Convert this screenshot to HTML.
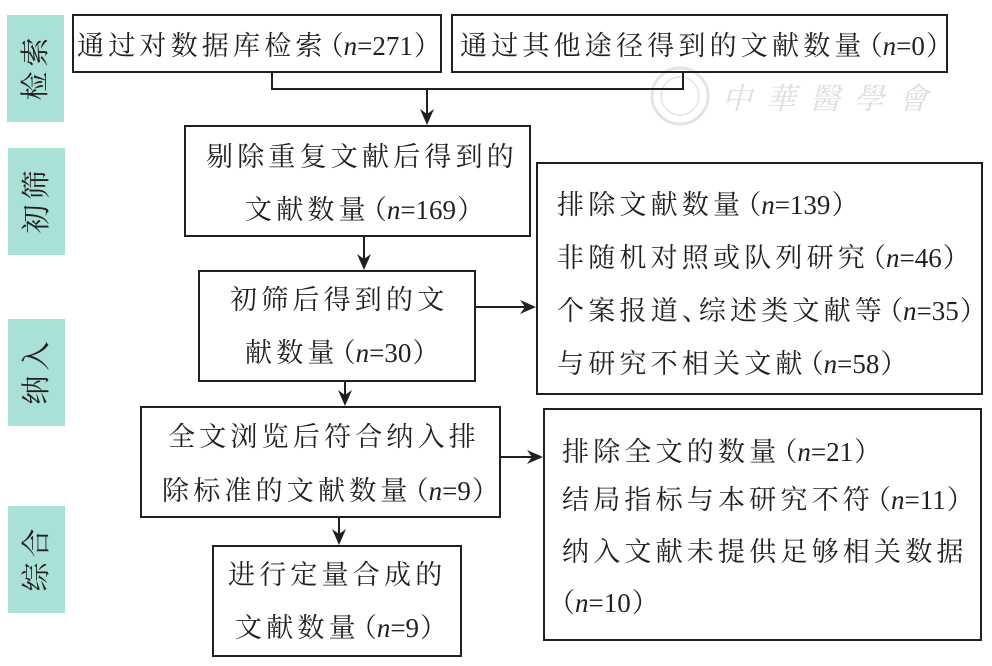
<!DOCTYPE html>
<html>
<head>
<meta charset="utf-8">
<style>
html,body{margin:0;padding:0;background:#fff;}
body{width:992px;height:666px;position:relative;overflow:hidden;font-family:"Liberation Serif","Noto Serif CJK SC",serif;color:#231f20;}
.lab{position:absolute;background:#a9e1d7;}
.lab span{position:absolute;left:50%;top:50%;transform:translate(-50%,-50%) rotate(-90deg);font-size:29px;line-height:30px;letter-spacing:5px;padding-left:5px;white-space:nowrap;color:#231f20;}
.t{position:absolute;white-space:nowrap;font-size:27px;line-height:30px;letter-spacing:4.2px;}
.t i{font-family:"Liberation Serif",serif;font-style:italic;letter-spacing:0;}
.t b{font-family:"Liberation Serif",serif;font-weight:normal;letter-spacing:0;}
.t .po{letter-spacing:0;margin-left:-10px;}
.t .pc{letter-spacing:0;margin-right:-8px;margin-left:1px;}
.t .dn{letter-spacing:0;margin-right:-10px;}
svg{position:absolute;left:0;top:0;}
.wm{position:absolute;color:#dedede;font-family:"Noto Serif CJK SC",serif;font-style:italic;font-size:30px;letter-spacing:14px;white-space:nowrap;}
</style>
</head>
<body>
<!-- watermark -->
<svg width="992" height="666">
  <circle cx="680" cy="96" r="28" fill="none" stroke="#e4e4e4" stroke-width="3"/>
  <circle cx="680" cy="96" r="19" fill="none" stroke="#e8e8e8" stroke-width="2"/>
</svg>
<div class="wm" style="left:722px;top:74px;">中華醫學會</div>

<!-- side labels -->
<div class="lab" style="left:7px;top:15px;width:57px;height:107px;"><span>检索</span></div>
<div class="lab" style="left:8px;top:148px;width:57px;height:107px;"><span>初筛</span></div>
<div class="lab" style="left:8px;top:319px;width:57px;height:107px;"><span>纳入</span></div>
<div class="lab" style="left:8px;top:506px;width:57px;height:107px;"><span>综合</span></div>

<svg width="992" height="666">
  <g fill="none" stroke="#231f20" stroke-width="2">
    <rect x="73" y="15" width="368" height="57"/>
    <rect x="452" y="15" width="495" height="57"/>
    <rect x="185" y="126" width="345" height="110"/>
    <rect x="199" y="271" width="276" height="110"/>
    <rect x="537" y="163" width="445" height="231"/>
    <rect x="141" y="407" width="359" height="110"/>
    <rect x="544" y="409" width="437" height="231"/>
    <rect x="213" y="546" width="248" height="110"/>
    <polyline points="272,72 272,89 683,89 683,72"/>
    <line x1="427" y1="89" x2="427" y2="120"/>
    <line x1="364" y1="236" x2="364" y2="265"/>
    <line x1="475" y1="307" x2="531" y2="307"/>
    <line x1="345" y1="381" x2="345" y2="401"/>
    <line x1="500" y1="457" x2="538" y2="457"/>
    <line x1="339" y1="517" x2="339" y2="540"/>
  </g>
  <g fill="#231f20">
    <path d="M427,125 L420,109 L427,114 L434,109 Z"/>
    <path d="M364,270 L357,254 L364,259 L371,254 Z"/>
    <path d="M345,406 L338,390 L345,395 L352,390 Z"/>
    <path d="M339,545 L332,529 L339,534 L346,529 Z"/>
    <path d="M536,307 L520,300 L525,307 L520,314 Z"/>
    <path d="M543,457 L527,450 L532,457 L527,464 Z"/>
  </g>
</svg>

<!-- box texts -->
<div class="t" style="left:77px;top:31px;">通过对数据库检索<span class="po">（</span><i>n</i><b>=271</b><span class="pc">）</span></div>
<div class="t" style="left:460px;top:31px;">通过其他途径得到的文献数量<span class="po">（</span><i>n</i><b>=0</b><span class="pc">）</span></div>

<div class="t" style="left:206px;top:142px;">剔除重复文献后得到的</div>
<div class="t" style="left:245px;top:195px;">文献数量<span class="po">（</span><i>n</i><b>=169</b><span class="pc">）</span></div>

<div class="t" style="left:230px;top:285px;">初筛后得到的文</div>
<div class="t" style="left:245px;top:338px;">献数量<span class="po">（</span><i>n</i><b>=30</b><span class="pc">）</span></div>

<div class="t" style="left:557px;top:190px;">排除文献数量<span class="po">（</span><i>n</i><b>=139</b><span class="pc">）</span></div>
<div class="t" style="left:557px;top:243px;">非随机对照或队列研究<span class="po">（</span><i>n</i><b>=46</b><span class="pc">）</span></div>
<div class="t" style="left:557px;top:296px;">个案报道<span class="dn">、</span>综述类文献等<span class="po">（</span><i>n</i><b>=35</b><span class="pc">）</span></div>
<div class="t" style="left:557px;top:349px;">与研究不相关文献<span class="po">（</span><i>n</i><b>=58</b><span class="pc">）</span></div>

<div class="t" style="left:168px;top:422px;">全文浏览后符合纳入排</div>
<div class="t" style="left:162px;top:476px;">除标准的文献数量<span class="po">（</span><i>n</i><b>=9</b><span class="pc">）</span></div>

<div class="t" style="left:562px;top:437px;">排除全文的数量<span class="po">（</span><i>n</i><b>=21</b><span class="pc">）</span></div>
<div class="t" style="left:562px;top:485px;">结局指标与本研究不符<span class="po">（</span><i>n</i><b>=11</b><span class="pc">）</span></div>
<div class="t" style="left:562px;top:537px;">纳入文献未提供足够相关数据</div>
<div class="t" style="left:558px;top:588px;"><span class="po">（</span><i>n</i><b>=10</b><span class="pc">）</span></div>

<div class="t" style="left:228px;top:560px;">进行定量合成的</div>
<div class="t" style="left:235px;top:613px;">文献数量<span class="po">（</span><i>n</i><b>=9</b><span class="pc">）</span></div>
</body>
</html>
